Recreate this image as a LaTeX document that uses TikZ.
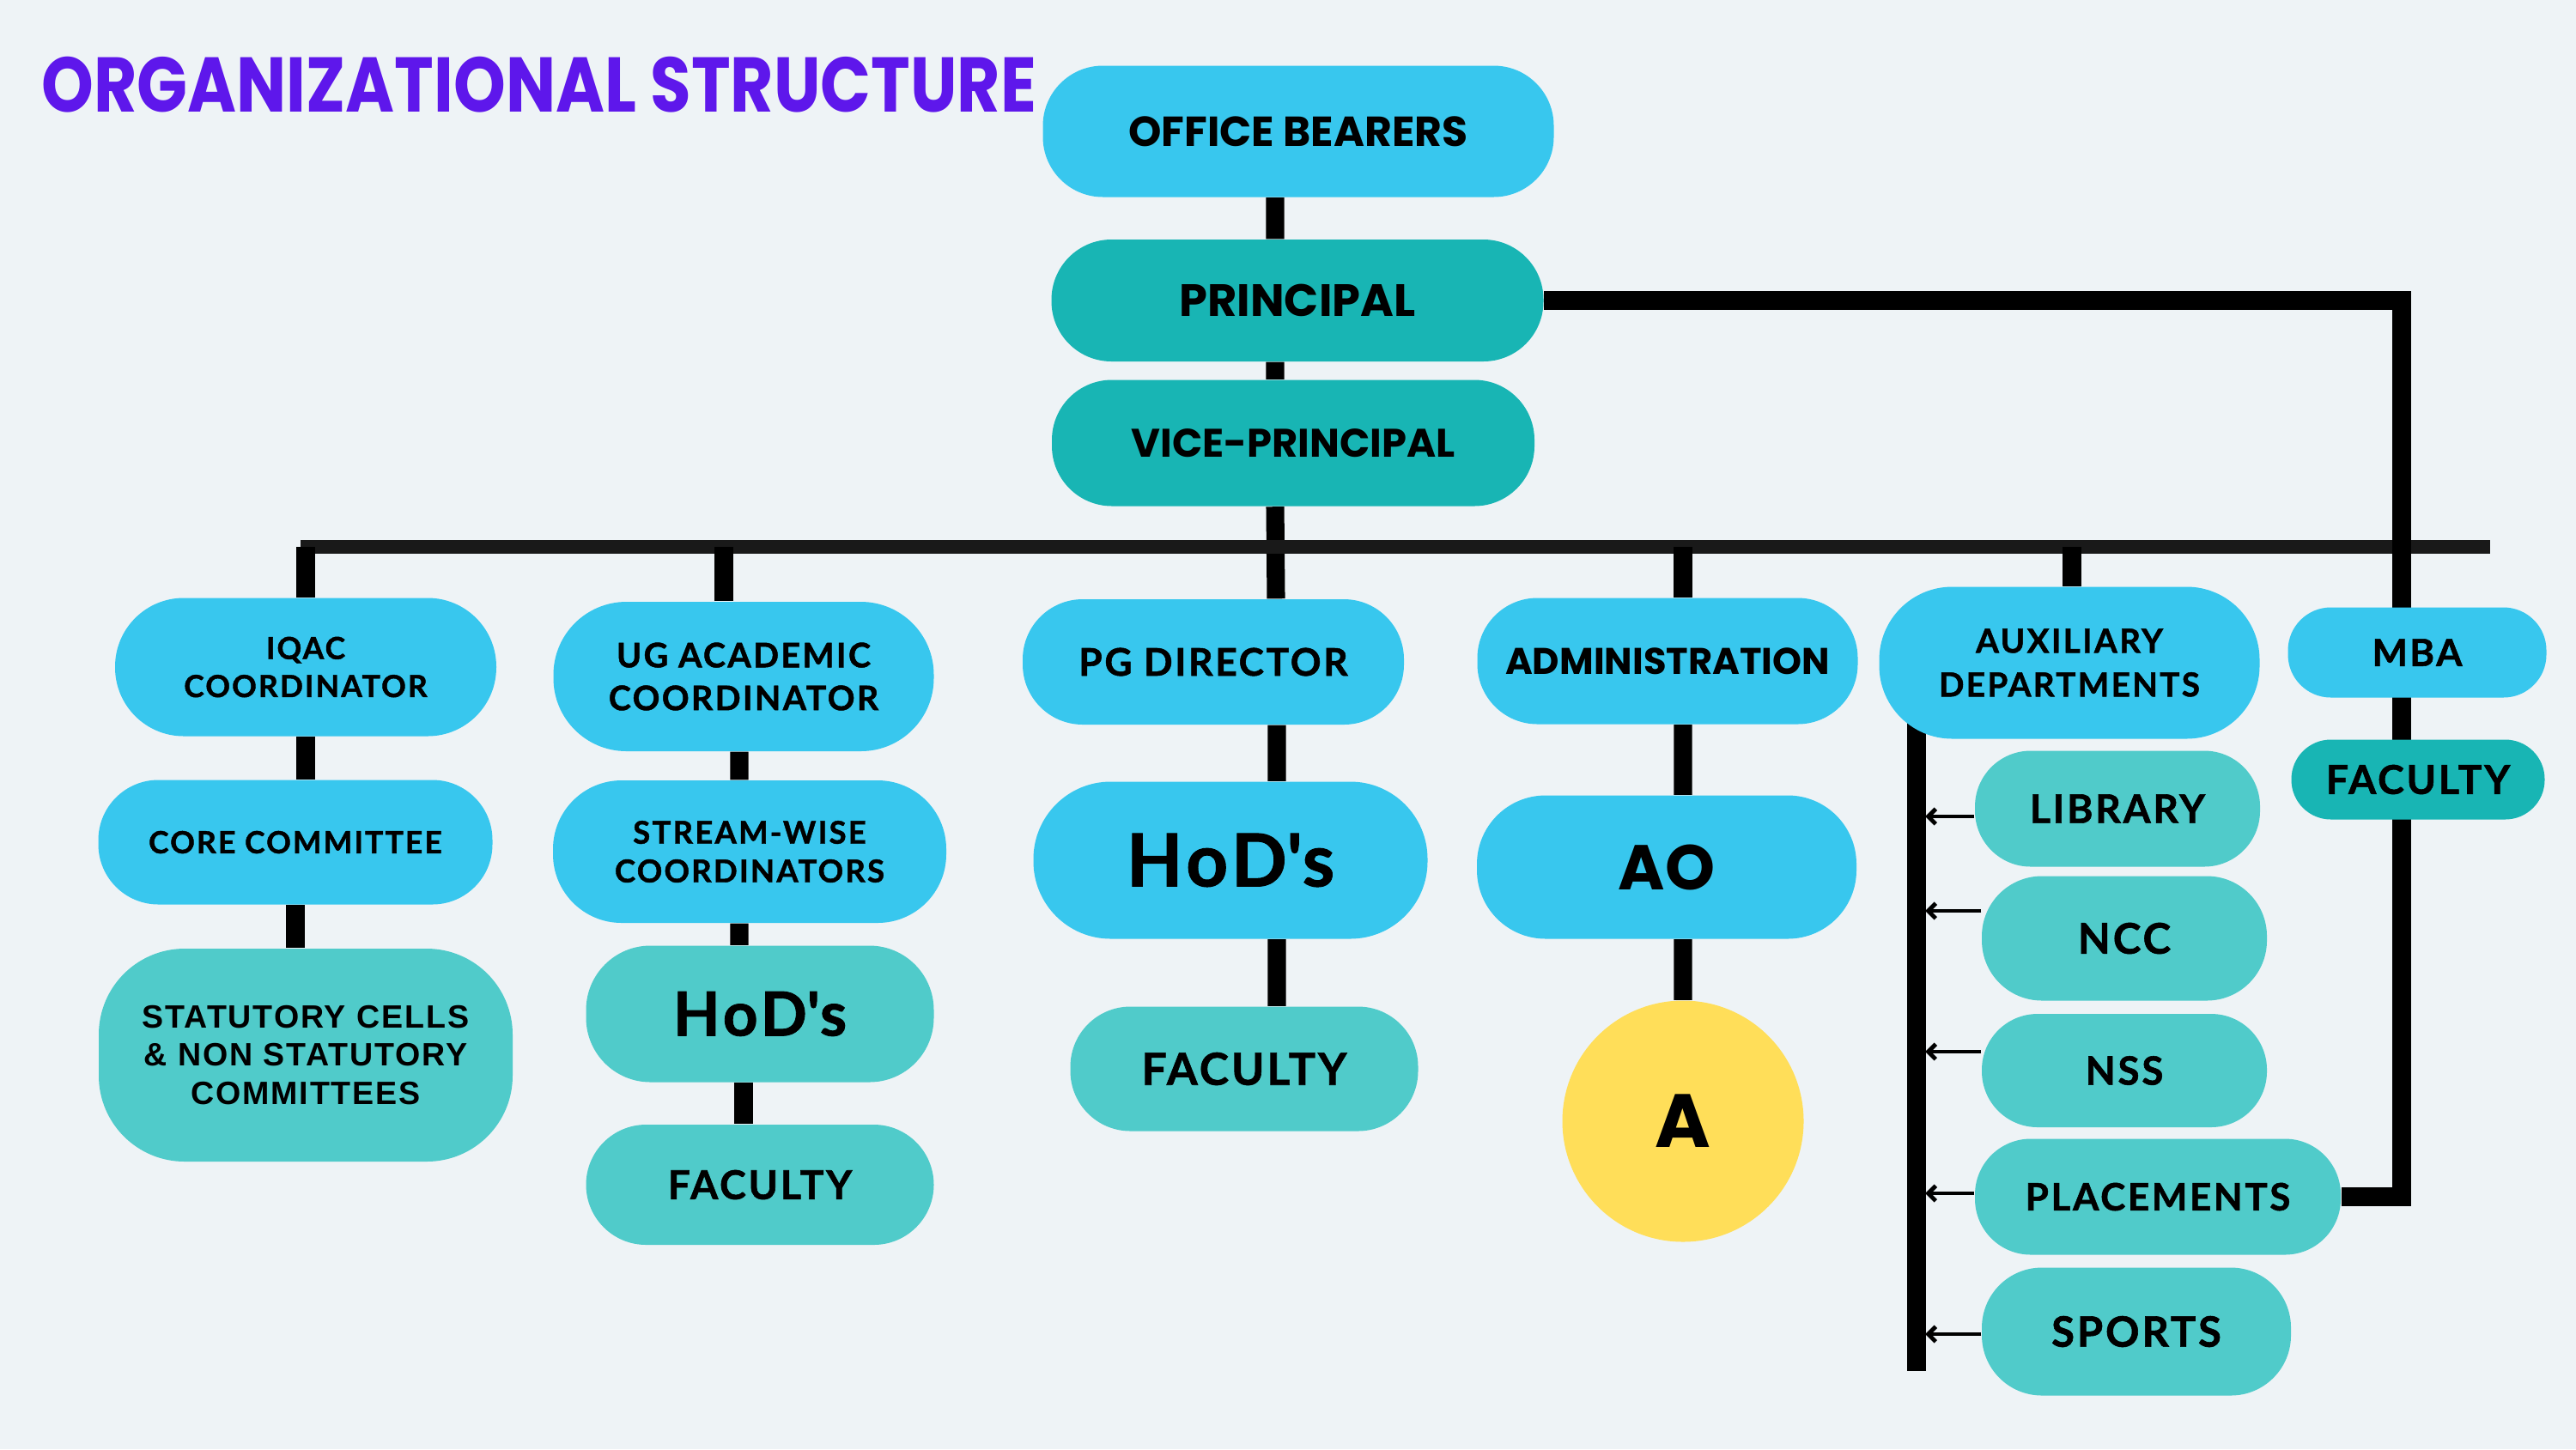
\documentclass[tikz,border=0pt]{standalone}
\usepackage{fontspec}
\usepackage{graphicx}
\setmainfont{Poppins}
\newfontfamily\lato[LetterSpace=6, BoldFeatures={FakeBold=1.2}]{Lato}
\newfontfamily\arialish[LetterSpace=5]{Liberation Sans}
\usetikzlibrary{arrows.meta}
\definecolor{skyblue}{HTML}{38C7EE}
\definecolor{deepteal}{HTML}{18B5B4}
\definecolor{softteal}{HTML}{50CBCA}
\definecolor{sunny}{HTML}{FFDE59}
\definecolor{titlepurple}{HTML}{5E17EB}
\definecolor{paper}{HTML}{EEF3F6}
\pgfdeclarelayer{paperlayer}
\pgfdeclarelayer{linklayer}
\pgfsetlayers{paperlayer,linklayer,main}

\begin{document}
\begin{tikzpicture}[
  box/.style={rectangle, rounded corners=7mm, align=center, inner sep=0pt, text=black},
  sky/.style={box, fill=skyblue},
  deep/.style={box, fill=deepteal},
  soft/.style={box, fill=softteal},
  link/.style={line width=6pt, line join=miter},
  crossbar/.style={line width=4.6pt, black!90},
  feed/.style={line width=1.4pt, -{Straight Barb[length=2.5pt, width=5pt]}}
]
  \useasboundingbox (0,0) rectangle (30,-16.88);
  \begin{pgfonlayer}{paperlayer}
    \fill[paper] (0,0) rectangle (30,-16.88);
  \end{pgfonlayer}

  % title
  \node[anchor=west, inner sep=0pt, text=titlepurple, font=\bfseries\fontsize{25.7}{30}\selectfont] (title) at (0.48,-0.985)
    {\scalebox{0.856}[1]{ORGANIZATIONAL STRUCTURE}};

  % top of the chart
  \node[sky, minimum width=5.95cm, minimum height=1.53cm, font=\bfseries\fontsize{13.9}{16}\selectfont] (ob) at (15.12,-1.53) {OFFICE BEARERS};
  \node[deep, minimum width=5.73cm, minimum height=1.42cm, font=\bfseries\fontsize{15}{18}\selectfont] (pr) at (15.11,-3.50) {PRINCIPAL};
  \node[deep, minimum width=5.62cm, minimum height=1.47cm, font=\bfseries\fontsize{13.2}{16}\selectfont] (vp) at (15.06,-5.16) {VICE-PRINCIPAL};

  % IQAC column
  \node[sky, minimum width=4.44cm, minimum height=1.61cm, rounded corners=8mm, font=\lato\bfseries\fontsize{10.1}{12.6}\selectfont] (iqac) at (3.56,-7.77) {IQAC\\COORDINATOR};
  \node[sky, minimum width=4.59cm, minimum height=1.45cm, font=\lato\bfseries\fontsize{10.1}{12}\selectfont] (core) at (3.44,-9.81) {CORE COMMITTEE};
  \node[soft, minimum width=4.82cm, minimum height=2.48cm, rounded corners=10mm, font=\arialish\bfseries\fontsize{10.7}{12.6}\selectfont] (stat) at (3.56,-12.29) {STATUTORY CELLS\\\& NON STATUTORY\\COMMITTEES};

  % UG column
  \node[sky, minimum width=4.43cm, minimum height=1.74cm, rounded corners=8.5mm, font=\lato\bfseries\fontsize{11.2}{14.2}\selectfont] (ug) at (8.66,-7.88) {UG ACADEMIC\\COORDINATOR};
  \node[sky, minimum width=4.58cm, minimum height=1.66cm, rounded corners=8mm, font=\lato\bfseries\fontsize{10.4}{12.8}\selectfont] (sw) at (8.73,-9.92) {STREAM-WISE\\COORDINATORS};
  \node[soft, minimum width=4.05cm, minimum height=1.59cm, rounded corners=7.5mm, font=\lato\bfseries\fontsize{20.2}{24}\selectfont] (hodug) at (8.85,-11.81) {HoD\textquotesingle s};
  \node[soft, minimum width=4.05cm, minimum height=1.40cm, font=\lato\bfseries\fontsize{13.2}{16}\selectfont] (facug) at (8.85,-13.80) {FACULTY};

  % PG column
  \node[sky, minimum width=4.44cm, minimum height=1.46cm, font=\lato\bfseries\fontsize{12.6}{15}\selectfont] (pg) at (14.13,-7.71) {PG DIRECTOR};
  \node[sky, minimum width=4.59cm, minimum height=1.83cm, rounded corners=9mm, font=\lato\bfseries\fontsize{24.2}{28}\selectfont] (hodpg) at (14.33,-10.02) {HoD\textquotesingle s};
  \node[soft, minimum width=4.05cm, minimum height=1.45cm, font=\lato\bfseries\fontsize{14.7}{17}\selectfont] (facpg) at (14.49,-12.45) {FACULTY};

  % administration column
  \node[sky, minimum width=4.43cm, minimum height=1.47cm, font=\bfseries\fontsize{12.3}{15}\selectfont] (adm) at (19.42,-7.70) {ADMINISTRATION};
  \node[sky, minimum width=4.42cm, minimum height=1.67cm, rounded corners=8mm, font=\bfseries\fontsize{21}{25}\selectfont] (ao) at (19.41,-10.10) {AO};
  \node[circle, fill=sunny, minimum size=2.81cm, inner sep=0pt, font=\bfseries\fontsize{25}{30}\selectfont] (aa) at (19.60,-13.06) {A};

  % auxiliary column
  \node[sky, minimum width=4.43cm, minimum height=1.77cm, rounded corners=8.5mm, font=\lato\bfseries\fontsize{11}{14.5}\selectfont] (aux) at (24.10,-7.72) {AUXILIARY\\DEPARTMENTS};
  \node[soft, minimum width=3.32cm, minimum height=1.35cm, rounded corners=6.5mm, font=\lato\bfseries\fontsize{13.1}{16}\selectfont] (lib) at (24.66,-9.42) {LIBRARY};
  \node[soft, minimum width=3.32cm, minimum height=1.45cm, font=\lato\bfseries\fontsize{14}{16}\selectfont] (ncc) at (24.74,-10.93) {NCC};
  \node[soft, minimum width=3.32cm, minimum height=1.32cm, rounded corners=6.5mm, font=\lato\bfseries\fontsize{13}{16}\selectfont] (nss) at (24.74,-12.47) {NSS};
  \node[soft, minimum width=4.26cm, minimum height=1.35cm, rounded corners=6.5mm, font=\lato\bfseries\fontsize{12.5}{16}\selectfont] (plc) at (25.13,-13.94) {PLACEMENTS};
  \node[soft, minimum width=3.60cm, minimum height=1.49cm, font=\lato\bfseries\fontsize{13.9}{16}\selectfont] (spt) at (24.88,-15.51) {SPORTS};

  % MBA
  \node[sky, minimum width=3.01cm, minimum height=1.05cm, rounded corners=5mm, font=\lato\bfseries\fontsize{12.4}{15}\selectfont] (mba) at (28.15,-7.60) {MBA};
  \node[deep, minimum width=2.95cm, minimum height=0.93cm, rounded corners=4.6mm, font=\lato\bfseries\fontsize{13.2}{15}\selectfont] (facmba) at (28.16,-9.08) {FACULTY};

  % connectors
  \coordinate (barL) at (3.50,-6.37);
  \coordinate (barR) at (29.00,-6.37);
  \coordinate (rail) at (27.97,-8.00);
  \coordinate (auxtop) at (22.32,-8.40);
  \coordinate (auxend) at (22.32,-15.97);
  \coordinate (auxedge) at (22.42,-12.00);
  \begin{pgfonlayer}{linklayer}
    \draw[link] ([xshift=-2.7mm]ob.south) -- ([xshift=-2.6mm]pr.north);
    \draw[link] ([xshift=-2.6mm]pr.south) -- ([xshift=-2.1mm]vp.north);
    \draw[link] ([xshift=-2.1mm]vp.south) -- ([xshift=7.3mm]pg.north);
    \draw[crossbar] (barL) -- (barR);
    \draw[link] (iqac.north) -- (iqac.north |- barL);
    \draw[link] ([xshift=-2.3mm]ug.north) -- ([xshift=-2.3mm]ug.north |- barL);
    \draw[link] ([xshift=1.8mm]adm.north) -- ([xshift=1.8mm]adm.north |- barL);
    \draw[link] ([xshift=0.3mm]aux.north) -- ([xshift=0.3mm]aux.north |- barL);
    % IQAC column
    \draw[link] (iqac.south) -- (iqac.south |- core.north);
    \draw[link] (core.south) -- (core.south |- stat.north);
    % UG column
    \draw[link] ([xshift=-0.5mm]ug.south) -- ([xshift=-1.2mm]sw.north);
    \draw[link] ([xshift=-1.2mm]sw.south) -- ([xshift=-2.4mm]hodug.north);
    \draw[link] ([xshift=-1.9mm]hodug.south) -- ([xshift=-1.9mm]facug.north);
    % PG column
    \draw[link] ([xshift=7.4mm]pg.south) -- ([xshift=5.4mm]hodpg.north);
    \draw[link] ([xshift=5.4mm]hodpg.south) -- ([xshift=3.8mm]facpg.north);
    % administration column
    \draw[link] ([xshift=1.8mm]adm.south) -- ([xshift=1.9mm]ao.north);
    \draw[link] ([xshift=1.9mm]ao.south) -- (aa.north);
    % principal to MBA and placements
    \draw[link, line width=6.3pt] (pr.east) -| (rail) |- (plc.east);
    % auxiliary departments
    \draw[link] (auxtop) -- (auxend);
    \foreach \dept/\dy in {lib/-0.9mm, ncc/3.2mm, nss/2.2mm, plc/0.4mm, spt/-0.3mm}
      \draw[feed] ([yshift=\dy]\dept.west) -- ([yshift=\dy]\dept.west -| auxedge);
  \end{pgfonlayer}
\end{tikzpicture}
\end{document}
